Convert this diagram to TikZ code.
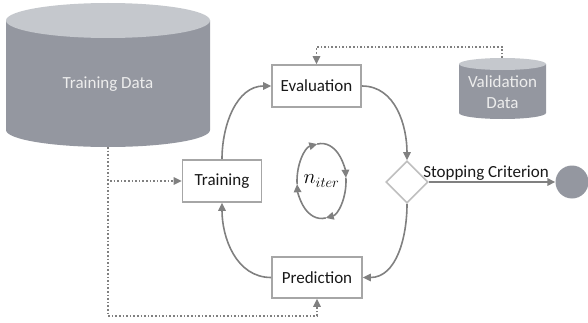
\documentclass[tikz,border=0pt]{standalone}
\usepackage{fontspec}
\setmainfont{Carlito}
\usetikzlibrary{arrows.meta,shapes.geometric,calc}
\definecolor{cylbody}{HTML}{9497A0}
\definecolor{cyltop}{HTML}{C5C8CD}
\definecolor{cyltext}{HTML}{EDEDED}
\definecolor{boxline}{HTML}{A6A6A6}
\definecolor{arrline}{HTML}{808080}
\definecolor{dialine}{HTML}{BFBFBF}
\definecolor{endfill}{HTML}{9497A0}
\tikzset{
  proc/.style={draw=boxline, line width=1.7pt, fill=white, inner sep=0pt, font=\fontsize{17}{20}\selectfont, text=black!90},
  flow/.style={draw=arrline, line width=1.6pt, -{Triangle[length=8pt,width=7.5pt]}},
  datalink/.style={draw=arrline, line width=1.6pt, dotted, -{Triangle[length=8pt,width=7.5pt]}},
  cyllabel/.style={text=cyltext, font=\fontsize{17}{21}\selectfont, align=center},
}
\begin{document}
\begin{tikzpicture}[x=1pt,y=1pt]
\useasboundingbox (0,0) rectangle (588,322);
% Training Data cylinder
\fill[cylbody] (6,301.5) -- (6,192) arc[start angle=180,end angle=360,x radius=102,y radius=17] -- (210,301.5) -- cycle;
\fill[cyltop] (108,301.5) ellipse[x radius=102,y radius=17.5];
\node[cyllabel] (td) at (108,238) {Training Data};
\coordinate (tdbot) at (108,175);
% Validation Data cylinder
\fill[cylbody] (459,258) -- (459,209) arc[start angle=180,end angle=360,x radius=43.5,y radius=6] -- (546,258) -- cycle;
\fill[cyltop] (502.5,258) ellipse[x radius=43.5,y radius=6];
\node[cyllabel] (vd) at (502.5,230) {Validation\\Data};
\coordinate (vdtop) at (502,264);
% process boxes
\node[proc, minimum width=79pt, minimum height=42pt] (train) at (222,141) {Training};
\node[proc, minimum width=89pt, minimum height=42pt] (eval) at (316.5,236) {Evaluation};
\node[proc, minimum width=90pt, minimum height=41pt] (pred) at (317,44.5) {Prediction};
\node[diamond, aspect=1, draw=dialine, line width=1.6pt, fill=white, minimum size=42pt, inner sep=0pt] (dia) at (407,140) {};
\node[circle, fill=endfill, minimum size=33pt, inner sep=0pt] (end) at (572,140) {};
% cycle
\draw[flow] (train.north) to[out=90,in=180] (eval.west);
\draw[flow] (eval.east) to[out=0,in=90] (dia.north);
\draw[flow] (dia.south) to[out=-90,in=0] (pred.east);
\draw[flow] (pred.west) to[out=180,in=-90] (train.south);
\draw[flow] (dia.east) -- node[above=-3pt, font=\fontsize{17}{20}\selectfont, text=black!90, xshift=-6pt] {Stopping Criterion} (end.west);
% data links
\coordinate (tdcorner) at (108,6);
\draw[datalink] (tdbot) |- (train.west);
\draw[datalink] (tdbot) -- (tdcorner) -| (pred.south);
\coordinate (vdcorner) at (502,275);
\draw[datalink] (vdtop) -- (vdcorner) -| (eval.north);
% n_iter loop
\coordinate (nc) at (321.5,141);
\node (niter) at (nc) {\fontsize{20}{22}\selectfont $n_{iter}$};
\draw[flow] ($(nc)+(185:24.5 and 37.5)$) arc[start angle=185,end angle=100,x radius=24.5,y radius=37.5];
\draw[flow] ($(nc)+(100:24.5 and 37.5)$) arc[start angle=100,end angle=5,x radius=24.5,y radius=37.5];
\draw[flow] ($(nc)+(5:24.5 and 37.5)$) arc[start angle=5,end angle=-80,x radius=24.5,y radius=37.5];
\draw[flow] ($(nc)+(-80:24.5 and 37.5)$) arc[start angle=-80,end angle=-175,x radius=24.5,y radius=37.5];
\end{tikzpicture}
\end{document}
